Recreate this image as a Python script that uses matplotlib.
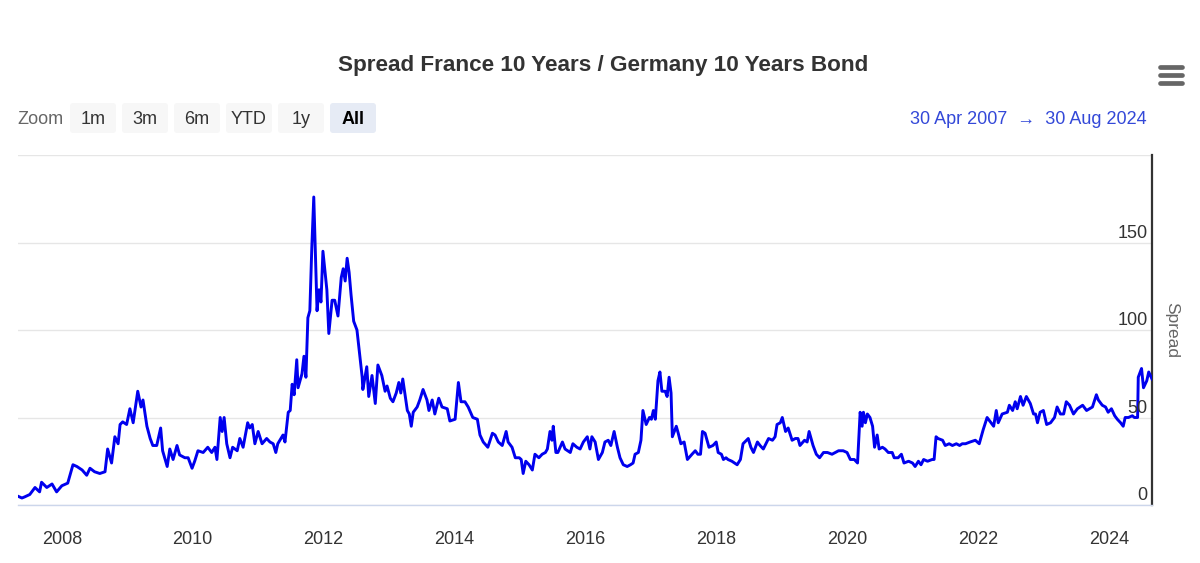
import matplotlib
matplotlib.use("Agg")
import matplotlib.pyplot as plt
from matplotlib.patches import FancyBboxPatch

plt.rcParams['font.family'] = ['Liberation Sans', 'DejaVu Sans']

# spread in bp, time as decimal year
years = [
    2007.33, 2007.39, 2007.43, 2007.51, 2007.59, 2007.66, 2007.69, 2007.77, 2007.85, 2007.92,
    2008.00, 2008.09, 2008.17, 2008.23, 2008.31, 2008.38, 2008.43, 2008.50, 2008.58, 2008.66,
    2008.70, 2008.76, 2008.81, 2008.86, 2008.89, 2008.93, 2008.99, 2009.04, 2009.09, 2009.16,
    2009.21, 2009.24, 2009.30, 2009.35, 2009.39, 2009.45, 2009.51, 2009.54, 2009.61, 2009.65,
    2009.70, 2009.76, 2009.80, 2009.88, 2009.93, 2009.99, 2010.03, 2010.08, 2010.16, 2010.23,
    2010.29, 2010.34, 2010.37, 2010.42, 2010.45, 2010.48, 2010.52, 2010.57, 2010.61, 2010.68,
    2010.72, 2010.77, 2010.84, 2010.87, 2010.91, 2010.95, 2011.00, 2011.06, 2011.13, 2011.18,
    2011.23, 2011.27, 2011.30, 2011.38, 2011.41, 2011.46, 2011.49, 2011.52, 2011.55, 2011.59,
    2011.61, 2011.67, 2011.70, 2011.73, 2011.76, 2011.79, 2011.82, 2011.85, 2011.90, 2011.93,
    2011.96, 2011.99, 2012.05, 2012.08, 2012.13, 2012.17, 2012.22, 2012.27, 2012.30, 2012.33,
    2012.36, 2012.39, 2012.42, 2012.46, 2012.51, 2012.54, 2012.59, 2012.60, 2012.66, 2012.69,
    2012.74, 2012.79, 2012.83, 2012.89, 2012.94, 2012.97, 2013.02, 2013.06, 2013.11, 2013.15,
    2013.18, 2013.21, 2013.28, 2013.31, 2013.34, 2013.37, 2013.43, 2013.47, 2013.52, 2013.58,
    2013.61, 2013.66, 2013.70, 2013.76, 2013.81, 2013.89, 2013.93, 2014.01, 2014.06, 2014.10,
    2014.16, 2014.21, 2014.28, 2014.35, 2014.39, 2014.44, 2014.51, 2014.58, 2014.62, 2014.67,
    2014.73, 2014.79, 2014.82, 2014.88, 2014.93, 2014.99, 2015.02, 2015.05, 2015.09, 2015.14,
    2015.19, 2015.23, 2015.29, 2015.34, 2015.39, 2015.42, 2015.46, 2015.49, 2015.51, 2015.55,
    2015.58, 2015.65, 2015.69, 2015.77, 2015.81, 2015.87, 2015.92, 2015.97, 2016.03, 2016.07,
    2016.10, 2016.15, 2016.20, 2016.26, 2016.30, 2016.35, 2016.39, 2016.44, 2016.49, 2016.53,
    2016.58, 2016.64, 2016.69, 2016.73, 2016.76, 2016.81, 2016.85, 2016.88, 2016.93, 2016.98,
    2017.01, 2017.04, 2017.07, 2017.11, 2017.14, 2017.17, 2017.22, 2017.25, 2017.28, 2017.31,
    2017.33, 2017.39, 2017.42, 2017.46, 2017.51, 2017.56, 2017.63, 2017.68, 2017.72, 2017.76,
    2017.79, 2017.83, 2017.89, 2017.95, 2018.00, 2018.03, 2018.08, 2018.11, 2018.15, 2018.18,
    2018.24, 2018.32, 2018.37, 2018.41, 2018.49, 2018.53, 2018.57, 2018.63, 2018.67, 2018.72,
    2018.80, 2018.86, 2018.90, 2018.93, 2018.98, 2019.01, 2019.06, 2019.10, 2019.16, 2019.21,
    2019.25, 2019.28, 2019.35, 2019.39, 2019.42, 2019.48, 2019.53, 2019.58, 2019.64, 2019.70,
    2019.77, 2019.82, 2019.87, 2019.94, 2020.00, 2020.05, 2020.11, 2020.16, 2020.17, 2020.20,
    2020.23, 2020.25, 2020.28, 2020.31, 2020.35, 2020.39, 2020.42, 2020.46, 2020.49, 2020.54,
    2020.58, 2020.63, 2020.69, 2020.72, 2020.78, 2020.83, 2020.87, 2020.94, 2021.00, 2021.04,
    2021.09, 2021.13, 2021.17, 2021.23, 2021.30, 2021.33, 2021.36, 2021.39, 2021.46, 2021.50,
    2021.56, 2021.61, 2021.67, 2021.72, 2021.76, 2021.81, 2021.88, 2021.96, 2022.02, 2022.08,
    2022.14, 2022.20, 2022.24, 2022.28, 2022.31, 2022.37, 2022.45, 2022.48, 2022.53, 2022.57,
    2022.60, 2022.65, 2022.69, 2022.74, 2022.80, 2022.85, 2022.88, 2022.91, 2022.95, 2023.00,
    2023.05, 2023.11, 2023.17, 2023.21, 2023.26, 2023.31, 2023.35, 2023.40, 2023.46, 2023.52,
    2023.60, 2023.66, 2023.75, 2023.81, 2023.84, 2023.90, 2023.95, 2023.99, 2024.04, 2024.09,
    2024.13, 2024.18, 2024.22, 2024.25, 2024.30, 2024.36, 2024.39, 2024.44, 2024.45, 2024.50,
    2024.53, 2024.58, 2024.61, 2024.66,
]
spread = [
    5, 4, 4.6, 6, 10, 7.5, 13, 10, 12, 7.5,
    11, 12.5, 23, 22, 20, 17, 21, 19, 18, 19,
    32, 24, 39, 35, 46, 47.5, 46, 55, 47, 65,
    56, 60, 45, 38, 34, 34, 44, 31, 22, 32,
    26, 34, 28.6, 27, 27, 21, 25, 31, 30, 33,
    30, 33, 26, 50, 42, 50, 35, 27, 33, 31,
    38, 33, 47, 44, 46, 35, 42, 35, 38, 36,
    35, 30, 35, 40, 36, 53, 54, 69, 63, 83,
    67, 75, 85, 73, 107, 111, 147, 176, 111, 123,
    116, 145, 123, 98, 117, 117, 108, 130, 135, 128,
    141, 133, 120, 105, 100, 90, 73, 66, 79, 62,
    74, 58, 80, 74, 65, 68, 61, 59, 64, 70,
    64, 72, 54, 52, 45, 53, 56, 60, 66, 60,
    54, 60, 52, 61, 56, 55, 48, 49, 70, 59,
    59, 56, 50, 49, 40, 36, 33, 41, 40, 36,
    34, 42, 36, 33, 27, 27, 26, 18, 25, 23,
    20, 29, 27, 29, 30, 32, 42, 37, 45, 30,
    30, 36, 32, 30, 35, 33, 32, 36, 39, 32,
    39, 36, 26, 30, 36, 37, 34, 42, 33, 27,
    23, 22, 23, 24, 29, 30, 37, 54, 46, 50,
    49, 54, 49, 71, 76, 65, 65, 62, 73, 64,
    39, 45, 41, 35, 36, 26, 29, 31, 29, 29,
    42, 41, 33, 34, 36, 30, 29, 26, 27, 26,
    25, 23, 26, 35, 38, 33, 30, 36, 34, 32,
    38, 37, 39, 46, 47, 50, 42, 44, 37, 38,
    38, 34, 37, 36, 42, 34, 29, 27, 30, 30,
    29, 30, 31, 31, 30, 26, 26, 24, 31, 53,
    45, 53, 47, 52, 50, 45, 33, 40, 32, 33,
    32, 30, 30, 27, 27, 29, 24, 25, 24, 22,
    25, 23, 26, 25, 26, 26, 39, 38, 37, 34,
    35, 34, 35, 34, 35, 35, 36, 37, 35, 43,
    50, 47, 45, 54, 47, 52, 53, 57, 54, 59,
    55, 62, 57, 62, 58, 52, 52, 47, 53, 54,
    46, 47, 50, 56, 52, 52, 59, 57, 52, 55,
    57, 54, 56, 63, 60, 57, 56, 53, 55, 51,
    49, 47, 45, 50, 50, 51, 50, 50, 73, 78,
    67, 71, 76, 72,
]

year_ticks = [2008, 2010, 2012, 2014, 2016, 2018, 2020, 2022, 2024]
spread_ticks = [0, 50, 100, 150]

title = "Spread France 10 Years / Germany 10 Years Bond"
zoom_buttons = ["1m", "3m", "6m", "YTD", "1y", "All"]
range_from = "30 Apr 2007"
range_to = "30 Aug 2024"

W, H = 1200, 563
fig = plt.figure(figsize=(W / 100, H / 100), dpi=100, facecolor='white')

# main plot
ax = fig.add_axes([18 / W, 1 - 505 / H, (1152 - 18) / W, (505 - 155) / H])
ax.plot(years, spread, color='#0000ee', lw=2.1, solid_joinstyle='round', zorder=3)
ax.set_xlim(2007.33, 2024.66)
ax.set_ylim(0, 200)
ax.set_yticks([0, 50, 100, 150, 200])
ax.yaxis.grid(True, color='#e6e6e6', lw=1.0)
ax.tick_params(axis='y', length=0, labelleft=False, labelright=False)
ax.set_xticks(year_ticks)
ax.set_xticklabels([str(y) for y in year_ticks])
ax.tick_params(axis='x', length=0, pad=19, labelsize=13, labelcolor='#333333')
for s in ['left', 'top']:
    ax.spines[s].set_visible(False)
ax.spines['right'].set_color('#333333')
ax.spines['right'].set_linewidth(1.6)
ax.spines['bottom'].set_color('#ccd6eb')
ax.spines['bottom'].set_linewidth(1.0)

for v in spread_ticks:
    ax.annotate(str(v), xy=(1, v), xycoords=ax.get_yaxis_transform(),
                xytext=(-3, 0.5), textcoords='offset points',
                ha='right', va='bottom', fontsize=13, color='#333333')

ax.text(1.011, 0.5, "Spread", transform=ax.transAxes, rotation=270,
        ha='left', va='center', fontsize=12.5, color='#666666')

# overlay in pixel coords for the header items
ov = fig.add_axes([0, 0, 1, 1], zorder=-1)
ov.set_xlim(0, W)
ov.set_ylim(H, 0)
ov.axis('off')

ov.text(603, 65, title, ha='center', va='center', fontsize=16.2,
        fontweight='bold', color='#333333')

ov.text(17, 119.5, "Zoom", ha='left', va='center', fontsize=13, color='#666666')
bx = 70
for lab in zoom_buttons:
    sel = lab == "All"
    ov.add_patch(FancyBboxPatch((bx, 103), 46, 30,
                                boxstyle="round,pad=0,rounding_size=3",
                                fc='#e6ebf5' if sel else '#f7f7f7', ec='none'))
    ov.text(bx + 23, 119.5, lab, ha='center', va='center', fontsize=13,
            color='#000000' if sel else '#333333',
            fontweight='bold' if sel else 'normal')
    bx += 52

ov.text(1147, 119.5, f"{range_from}  \u2192  {range_to}", ha='right', va='center',
        fontsize=13, color='#3348d8')

# hamburger menu
for yy in (67, 75, 83):
    ov.plot([1160, 1182], [yy, yy], color='#666666', lw=3.4,
            solid_capstyle='round')

fig.savefig("out.png", dpi=100, facecolor='white')
